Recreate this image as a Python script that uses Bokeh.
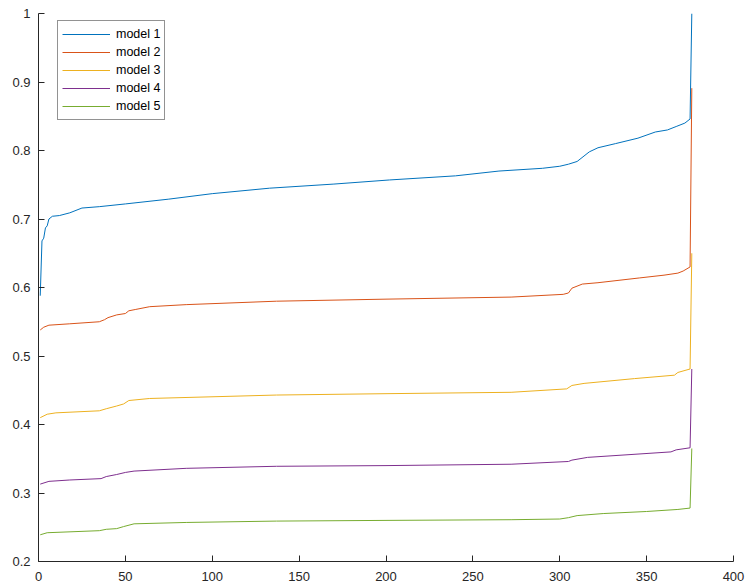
from bokeh.plotting import figure
from bokeh.models import Range1d, FixedTicker, Legend, LegendItem
from bokeh.embed import file_html
from bokeh.resources import INLINE

# ---- data ----
x1 = [1, 2, 3, 4, 5, 6, 8, 12, 18, 25, 35, 50, 75, 100, 133, 170, 202, 240, 265, 290, 300, 305, 310, 317, 322, 332, 345, 355, 362, 367, 372, 375, 376]
y1 = [0.588, 0.668, 0.672, 0.687, 0.690, 0.700, 0.704, 0.705, 0.709, 0.716, 0.718, 0.722, 0.729, 0.737, 0.745, 0.751, 0.757, 0.763, 0.770, 0.774, 0.777, 0.780, 0.784, 0.798, 0.804, 0.810, 0.818, 0.827, 0.830, 0.835, 0.840, 0.846, 1.0]

x2 = [1, 3, 6, 18, 35, 38, 40, 45, 50, 52, 56, 64, 85, 137, 200, 272, 302, 305, 307, 313, 322, 346, 360, 368, 371, 375, 376]
y2 = [0.538, 0.542, 0.545, 0.547, 0.550, 0.553, 0.556, 0.560, 0.562, 0.566, 0.568, 0.572, 0.575, 0.580, 0.583, 0.586, 0.590, 0.592, 0.599, 0.605, 0.607, 0.614, 0.618, 0.621, 0.624, 0.630, 0.891]

x3 = [1, 5, 10, 35, 39, 45, 49, 52, 64, 137, 200, 272, 304, 307, 314, 343, 366, 368, 375, 376]
y3 = [0.410, 0.415, 0.417, 0.420, 0.423, 0.427, 0.430, 0.435, 0.438, 0.443, 0.445, 0.447, 0.452, 0.457, 0.460, 0.467, 0.472, 0.476, 0.481, 0.650]

x4 = [1, 6, 18, 36, 39, 45, 50, 55, 85, 137, 200, 272, 305, 307, 316, 364, 367, 375, 376]
y4 = [0.313, 0.317, 0.319, 0.321, 0.324, 0.327, 0.330, 0.332, 0.336, 0.339, 0.340, 0.342, 0.346, 0.348, 0.352, 0.360, 0.363, 0.366, 0.481]

x5 = [1, 5, 35, 39, 45, 49, 55, 85, 137, 200, 272, 300, 305, 310, 325, 350, 368, 375, 376]
y5 = [0.239, 0.242, 0.245, 0.247, 0.248, 0.251, 0.255, 0.257, 0.259, 0.260, 0.261, 0.262, 0.264, 0.267, 0.270, 0.273, 0.276, 0.278, 0.365]

names = ["model 1", "model 2", "model 3", "model 4", "model 5"]
colors = ["#0072BD", "#D95319", "#EDB120", "#7E2F8E", "#77AC30"]
x_ticks = [0, 50, 100, 150, 200, 250, 300, 350, 400]
y_ticks = [0.2, 0.3, 0.4, 0.5, 0.6, 0.7, 0.8, 0.9, 1.0]

FONT = "Liberation Sans"
DARK = "#262626"

p = figure(width=747, height=588, output_backend="svg", toolbar_location=None,
           x_range=Range1d(0, 400), y_range=Range1d(0.2, 1.0),
           min_border_left=38, min_border_right=14, min_border_top=13, min_border_bottom=27)
p.outline_line_color = None
p.grid.visible = False
p.background_fill_color = "white"
p.border_fill_color = "white"

for ax in (p.xaxis[0], p.yaxis[0]):
    ax.axis_line_color = DARK
    ax.axis_line_width = 1
    ax.major_tick_line_color = DARK
    ax.major_tick_in = 6
    ax.major_tick_out = 0
    ax.minor_tick_line_color = None
    ax.major_label_text_font = FONT
    ax.major_label_text_font_size = "13px"
    ax.major_label_text_color = DARK

p.xaxis.ticker = FixedTicker(ticks=x_ticks)
p.yaxis.ticker = FixedTicker(ticks=y_ticks)
p.yaxis.major_label_overrides = {1.0: "1", 1: "1"}
p.xaxis.major_label_standoff = 10
p.yaxis.major_label_standoff = 8

xs = [x1, x2, x3, x4, x5]
ys = [y1, y2, y3, y4, y5]
items = []
for xx, yy, c, n in zip(xs, ys, colors, names):
    r = p.line(xx, yy, line_color=c, line_width=1)
    items.append(LegendItem(label=n, renderers=[r]))

legend = Legend(items=items, location=(19, 441))
legend.label_text_font = FONT
legend.label_text_font_size = "12.5px"
legend.label_text_color = "black"
legend.glyph_width = 48
legend.glyph_height = 18
legend.label_height = 18
legend.spacing = 0
legend.padding = 4
legend.margin = 0
legend.label_standoff = 6
legend.border_line_color = DARK
legend.border_line_width = 1
legend.background_fill_color = "white"
legend.background_fill_alpha = 1
p.add_layout(legend, "center")

open("out.html", "w").write(file_html(p, INLINE))
